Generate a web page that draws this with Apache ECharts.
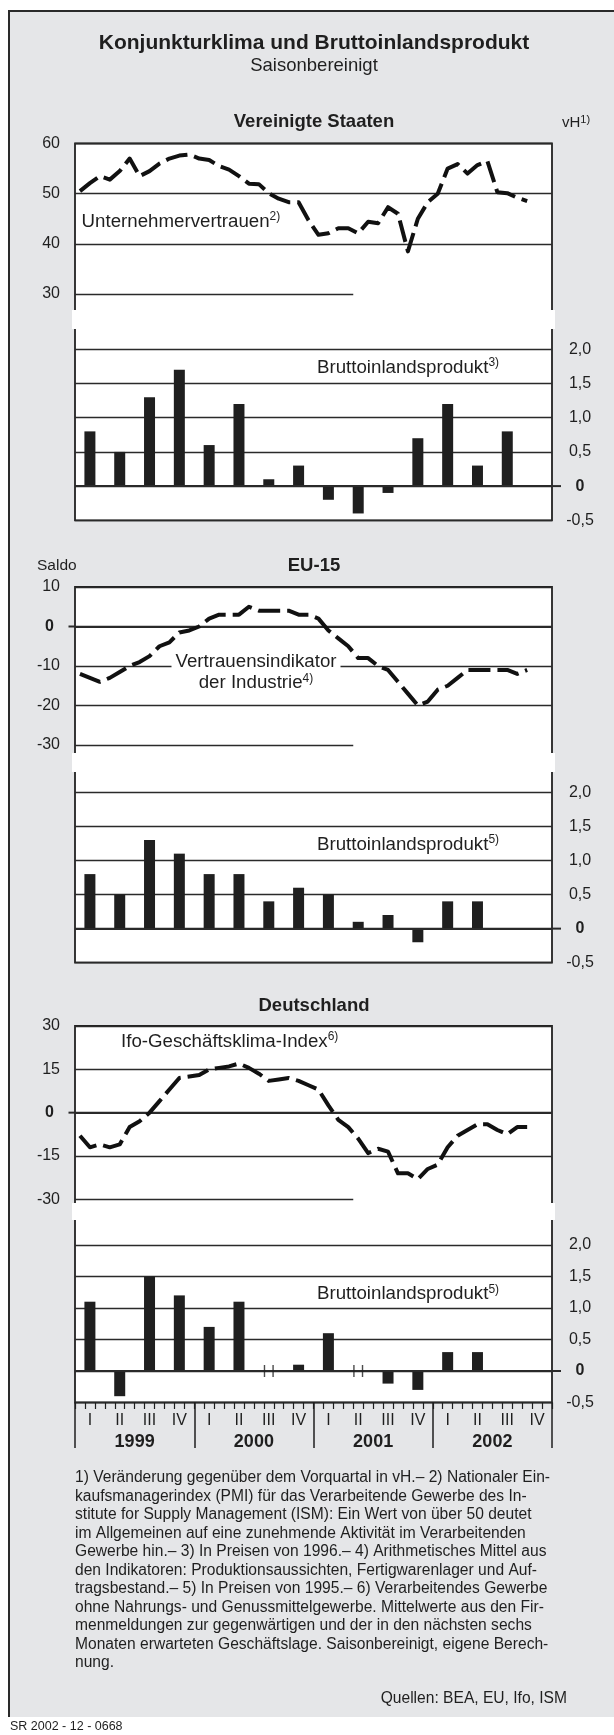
<!DOCTYPE html>
<html>
<head>
<meta charset="utf-8">
<title>Konjunkturklima und Bruttoinlandsprodukt</title>
<script src="https://cdn.jsdelivr.net/npm/echarts@6/dist/echarts.min.js"></script>
<style>
  html, body { margin: 0; padding: 0; background: #ffffff; }
  #chart { width: 614px; height: 1735px; }
</style>
</head>
<body>
<div id="chart"></div>
<script>
// ---------------- data ----------------
const years = ['1999', '2000', '2001', '2002'];
const quarterNames = ['I', 'II', 'III', 'IV'];
const monthsPerYear = 12;

// Vereinigte Staaten: Unternehmervertrauen (PMI), monthly
const usPmi = [50.5, 52.1, 53.5, 52.8, 54.5, 57.0, 53.5, 54.5, 56.0, 57.0, 57.6, 57.8,
               57.0, 56.7, 55.5, 54.8, 53.5, 52.0, 51.9, 50.1, 49.0, 48.3, 48.3, 44.7,
               41.8, 42.1, 43.1, 43.1, 42.1, 44.4, 44.1, 47.3, 46.0, 38.5, 45.0, 48.3,
               50.0, 55.0, 55.9, 54.0, 55.7, 56.5, 50.3, 50.1, 49.2, 48.5];
// Vereinigte Staaten: BIP, quarterly, vH
const usGdp = [0.8, 0.5, 1.3, 1.7, 0.6, 1.2, 0.1, 0.3, -0.2, -0.4, -0.1, 0.7, 1.2, 0.3, 0.8];

// EU-15: Vertrauensindikator der Industrie, monthly, Saldo
const euConfidence = [-12, -13, -14, -13, -11.5, -10, -9, -7.5, -5, -4, -1.5, -1,
                      0, 2, 3, 3, 3, 5, 4, 4, 4, 4, 3, 3,
                      2, -1, -3, -5, -8, -8, -10, -11, -14, -17, -20, -19,
                      -16, -15, -13, -11, -11, -11, -11, -11, -12, -11];
const euGdp = [0.8, 0.5, 1.3, 1.1, 0.8, 0.8, 0.4, 0.6, 0.5, 0.1, 0.2, -0.2, 0.4, 0.4];

// Deutschland: Ifo-Geschäftsklima-Index, monthly
const deIfo = [-8, -12, -11, -12, -11, -5, -3, 0, 4, 8, 12, 12.5,
               13, 15, 15.5, 16, 17, 15.5, 13.5, 11, 11.5, 12, 11, 9.5,
               8, 2.5, -2.5, -5, -9, -14, -12.5, -13.5, -21, -21, -23, -19.5,
               -18, -12, -8, -6, -4, -4, -6, -7.5, -5, -5];
const deGdp = [1.1, -0.4, 1.5, 1.2, 0.7, 1.1, 0, 0.1, 0.6, 0, -0.2, -0.3, 0.3, 0.3];

// tick labels
const usLineTicks = [30, 40, 50, 60];
const euLineTicks = [-30, -20, -10, 0, 10];
const deLineTicks = [-30, -15, 0, 15, 30];
const gdpTicks = [-0.5, 0, 0.5, 1, 1.5, 2];

const footnoteLines = [
  '1) Veränderung gegenüber dem Vorquartal in vH.– 2) Nationaler Ein-',
  'kaufsmanagerindex (PMI) für das Verarbeitende Gewerbe des In-',
  'stitute for Supply Management (ISM): Ein Wert von über 50 deutet',
  'im Allgemeinen auf eine zunehmende Aktivität im Verarbeitenden',
  'Gewerbe hin.– 3) In Preisen von 1996.– 4) Arithmetisches Mittel aus',
  'den Indikatoren: Produktionsaussichten, Fertigwarenlager und Auf-',
  'tragsbestand.– 5) In Preisen von 1995.– 6) Verarbeitendes Gewerbe',
  'ohne Nahrungs- und Genussmittelgewerbe. Mittelwerte aus den Fir-',
  'menmeldungen zur gegenwärtigen und der in den nächsten sechs',
  'Monaten erwarteten Geschäftslage. Saisonbereinigt, eigene Berech-',
  'nung.'
];

// derived categories
const quarters = years.flatMap(y => quarterNames.map(q => y + ' ' + q));
const months = years.flatMap(y => Array.from({ length: monthsPerYear }, (_, m) => y + '-' + String(m + 1).padStart(2, '0')));

// ---------------- layout / style ----------------
const FONT = '"Liberation Sans", Arial, Helvetica, sans-serif';
const INK = '#1f1f1f';
const GRID = '#2a2a2a';
const BG = '#e5e6e8';
const PL = 75, PR = 552;
const PARTIAL_END = 28; // month position where the lowest gridline stops

const sections = [
  { title: 'Vereinigte Staaten', titleY: 122, line: usPmi, lineTicks: usLineTicks, gdp: usGdp,
    lineTop: 143.5, lineBottom: 294, bandTop: 310, bandBottom: 329, barTop: 349.3, barBottom: 520.3 },
  { title: 'EU-15', titleY: 566, line: euConfidence, lineTicks: euLineTicks, gdp: euGdp,
    lineTop: 587, lineBottom: 745, bandTop: 753, bandBottom: 772, barTop: 792.3, barBottom: 962.7 },
  { title: 'Deutschland', titleY: 1006, line: deIfo, lineTicks: deLineTicks, gdp: deGdp, timeAxis: true,
    lineTop: 1026, lineBottom: 1199.3, bandTop: 1203, bandBottom: 1220, barTop: 1245, barBottom: 1402.5 }
];

const isZero = v => Math.abs(v) < 1e-9;
const leftFmt = v => isZero(v) ? '{z|0}' : String(v);
const rightFmt = v => isZero(v) ? '{z|0}' : v.toFixed(1).replace('.', ',');
const labelBase = { fontFamily: FONT, fontSize: 16, color: INK };

const grid = [], xAxis = [], yAxis = [], series = [];

sections.forEach(s => {
  s.gLine = grid.length;
  grid.push({ left: PL, top: s.lineTop, width: PR - PL, height: s.lineBottom - s.lineTop, outerBoundsMode: 'none', containLabel: false });
  s.gBar = grid.length;
  grid.push({ left: PL, top: s.barTop, width: PR - PL, height: s.barBottom - s.barTop, outerBoundsMode: 'none', containLabel: false });

  s.xLine = xAxis.length;
  xAxis.push({ type: 'value', gridIndex: s.gLine, min: 0, max: months.length, show: false });

  s.xBar = xAxis.length;
  xAxis.push({
    type: 'category', gridIndex: s.gBar, data: quarters, position: 'bottom', boundaryGap: true,
    axisLine: { show: false, onZero: false }, axisTick: { show: false },
    axisLabel: s.timeAxis ? Object.assign({}, labelBase, { interval: 0, margin: 10, formatter: v => v.split(' ')[1] }) : { show: false },
    splitLine: { show: false }
  });
  if (s.timeAxis) {
    xAxis.push({
      type: 'category', gridIndex: s.gBar, data: months, position: 'bottom', boundaryGap: true,
      axisLine: { show: false, onZero: false },
      axisTick: { show: true, interval: 0, length: 6.5, lineStyle: { color: INK, width: 1.2 } },
      axisLabel: { show: false }, splitLine: { show: false }
    });
    xAxis.push({
      type: 'category', gridIndex: s.gBar, data: years, position: 'bottom', boundaryGap: true,
      axisLine: { show: false, onZero: false },
      axisTick: { show: true, interval: 0, length: 45.5, lineStyle: { color: INK, width: 1.5 } },
      axisLabel: Object.assign({}, labelBase, { fontSize: 18, fontWeight: 'bold', interval: 0, margin: 31 }),
      splitLine: { show: false }
    });
  }

  const lt = s.lineTicks;
  s.yLine = yAxis.length;
  yAxis.push({
    type: 'value', gridIndex: s.gLine, position: 'left',
    min: lt[0], max: lt[lt.length - 1], interval: lt[1] - lt[0],
    axisLine: { show: false }, axisTick: { show: false },
    axisLabel: Object.assign({}, labelBase, {
      margin: 15, showMinLabel: true, showMaxLabel: true, formatter: leftFmt,
      rich: { z: { fontFamily: FONT, fontSize: 16, fontWeight: 'bold', color: INK, padding: [0, 6, 0, 0] } }
    }),
    splitLine: { show: true, lineStyle: { width: 1.3, color: lt.map((t, i) => i === 0 ? 'rgba(0,0,0,0)' : GRID) } }
  });

  s.yBar = yAxis.length;
  yAxis.push({
    type: 'value', gridIndex: s.gBar, position: 'right',
    min: gdpTicks[0], max: gdpTicks[gdpTicks.length - 1], interval: gdpTicks[1] - gdpTicks[0],
    axisLine: { show: false }, axisTick: { show: false },
    axisLabel: Object.assign({}, labelBase, {
      margin: 28, align: 'center', showMinLabel: true, showMaxLabel: true, formatter: rightFmt,
      rich: { z: { fontFamily: FONT, fontSize: 16, fontWeight: 'bold', color: INK } }
    }),
    splitLine: { show: true, lineStyle: { width: 1.3, color: GRID } }
  });

  const lineMarks = [[{ coord: [0, lt[0]] }, { coord: [PARTIAL_END, lt[0]] }]];
  if (lt.includes(0)) lineMarks.push({ yAxis: 0, lineStyle: { width: 2 } });
  series.push({
    type: 'line', xAxisIndex: s.xLine, yAxisIndex: s.yLine,
    data: s.line.map((v, i) => [i + 0.5, v]),
    symbol: 'none', z: 5, silent: true,
    lineStyle: { color: '#111', width: 4, type: [22, 7], cap: 'butt', join: 'round' },
    markLine: { silent: true, symbol: 'none', label: { show: false },
      lineStyle: { color: GRID, width: 1.3, type: 'solid' }, data: lineMarks }
  });
  series.push({
    type: 'bar', xAxisIndex: s.xBar, yAxisIndex: s.yBar, data: s.gdp,
    barWidth: 11, z: 4, silent: true, itemStyle: { color: INK },
    markLine: { silent: true, symbol: 'none', label: { show: false },
      lineStyle: { color: GRID, width: 2, type: 'solid' }, data: [{ yAxis: 0 }] }
  });
  series.push({
    type: 'scatter', xAxisIndex: s.xBar, yAxisIndex: s.yBar, silent: true, z: 6,
    data: s.gdp.map((v, i) => isZero(v) ? [quarters[i], v] : null).filter(d => d),
    symbol: 'path://M0,0H1.4V12H0Z M8.6,0H10V12H8.6Z', symbolSize: [10, 12],
    itemStyle: { color: INK }
  });
});

// ---------------- graphic (frame, texts) ----------------
const T = (x, y, text, extra) => ({ type: 'text', x, y, z: 10, silent: true,
  style: Object.assign({ text, fill: INK, fontFamily: FONT, fontSize: 16, align: 'left', verticalAlign: 'middle',
    textAlign: (extra && extra.align) || 'left', textVerticalAlign: (extra && extra.verticalAlign) || 'middle' }, extra) });
const supRich = (size, sup) => ({
  a: { fontFamily: FONT, fontSize: size, lineHeight: size + 3, fill: INK },
  s: { fontFamily: FONT, fontSize: sup, verticalAlign: 'top', fill: INK }
});
const supText = (x, y, main, sup, size, supSize, extra) =>
  T(x, y, '{a|' + main + '}{s|' + sup + '}', Object.assign({ rich: supRich(size, supSize) }, extra));

const elements = [
  { type: 'rect', z: -3, silent: true, shape: { x: 9, y: 11, width: 605, height: 1706 }, style: { fill: BG } },
  { type: 'polyline', z: -2, silent: true, shape: { points: [[9, 1717], [9, 11], [614, 11]] }, style: { stroke: '#2a2a2a', lineWidth: 2, fill: null } },
  T(314, 43.3, 'Konjunkturklima und Bruttoinlandsprodukt', { fontSize: 21, fontWeight: 'bold', align: 'center' }),
  T(314, 65.7, 'Saisonbereinigt', { fontSize: 18.5, align: 'center' }),
  supText(562, 123, 'vH', '1)', 15, 11),
  T(37, 566, 'Saldo', { fontSize: 15.5 }),
  supText(81.6, 221.5, 'Unternehmervertrauen', '2)', 18.7, 12),
  supText(317, 368, 'Bruttoinlandsprodukt', '3)', 18.7, 12),
  T(256, 672.5, '{a|Vertrauensindikator}\n{a|der Industrie}{s|4)}', {
    align: 'center', rich: { a: { fontFamily: FONT, fontSize: 18.7, lineHeight: 21, fill: INK },
      s: { fontFamily: FONT, fontSize: 12, verticalAlign: 'top', fill: INK } },
    backgroundColor: '#ffffff', padding: [1, 4] }),
  supText(317, 845, 'Bruttoinlandsprodukt', '5)', 18.7, 12),
  supText(121, 1041.7, 'Ifo-Geschäftsklima-Index', '6)', 18.7, 12),
  supText(317, 1294.3, 'Bruttoinlandsprodukt', '5)', 18.7, 12),
  T(75, 1468.8, footnoteLines.join('\n'), { fontSize: 15.6, lineHeight: 18.5, verticalAlign: 'top' }),
  T(567, 1699, 'Quellen: BEA, EU, Ifo, ISM', { fontSize: 15.6, align: 'right' }),
  T(10, 1727, 'SR 2002 - 12 - 0668', { fontSize: 12.5 })
];
sections.forEach(s => {
  elements.push({ type: 'rect', z: -1, silent: true,
    shape: { x: PL, y: s.lineTop, width: PR - PL, height: s.barBottom - s.lineTop },
    style: { fill: '#ffffff', stroke: '#222', lineWidth: 1.8 } });
  elements.push({ type: 'rect', z: -0.5, silent: true,
    shape: { x: PL - 3, y: s.bandTop, width: PR - PL + 6, height: s.bandBottom - s.bandTop },
    style: { fill: '#ffffff' } });
  elements.push(T(314, s.titleY, s.title, { fontSize: 18.5, fontWeight: 'bold', align: 'center' }));
});

const option = {
  animation: false,
  backgroundColor: '#ffffff',
  textStyle: { fontFamily: FONT },
  grid, xAxis, yAxis, series,
  graphic: { elements }
};

const chart = echarts.init(document.getElementById('chart'), null, { renderer: 'canvas' });
chart.setOption(option);

// zero-line extensions beyond the panel, positioned through the axes' scales
const extra = [];
sections.forEach(s => {
  if (s.lineTicks.includes(0)) {
    const y0 = chart.convertToPixel({ yAxisIndex: s.yLine }, 0);
    extra.push({ type: 'line', z: 1, silent: true, shape: { x1: PL - 6.5, y1: y0, x2: PL, y2: y0 }, style: { stroke: GRID, lineWidth: 2 } });
  }
  const yb = chart.convertToPixel({ yAxisIndex: s.yBar }, 0);
  extra.push({ type: 'line', z: 1, silent: true, shape: { x1: PR, y1: yb, x2: PR + 9, y2: yb }, style: { stroke: GRID, lineWidth: 2 } });
});
chart.setOption({ graphic: { elements: elements.concat(extra) } });
</script>
</body>
</html>
